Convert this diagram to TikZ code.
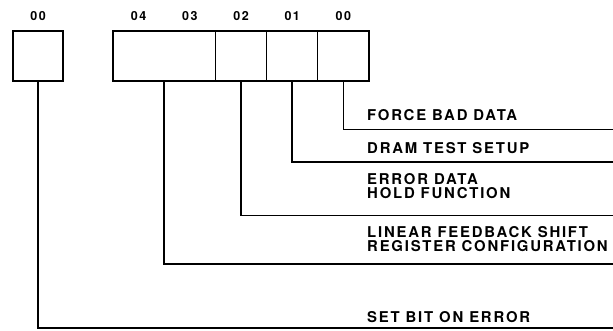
\documentclass[tikz,border=0pt]{standalone}
\usepackage{fontspec}
\setmainfont{TeX Gyre Heros}
\newfontfamily\lblfont[LetterSpace=12]{TeX Gyre Heros}
\newfontfamily\bitfont[LetterSpace=12]{TeX Gyre Heros}
\begin{document}
\begin{tikzpicture}[x=1pt,y=-1pt,
  cell/.style={draw,line width=1.3pt,minimum height=50pt,inner sep=0pt,outer sep=0pt},
  frame/.style={line width=2.2pt},
  conn/.style={line width=1.6pt},
  bitlbl/.style={font=\bitfont\bfseries\fontsize{12.5}{13}\selectfont,inner sep=0pt},
  desc/.style={font=\lblfont\bfseries\fontsize{14.9}{13.7}\selectfont,inner sep=0pt,anchor=base west,align=left}]
\useasboundingbox (0,0) rectangle (613,330);
% left box
\node[cell,frame,minimum width=50pt] (lb) at (38,56) {};
% main register cells
\node[cell,minimum width=102.4pt] (c43) at (164.2,56) {};
\node[cell,minimum width=51.2pt] (c2) at (241,56) {};
\node[cell,minimum width=51.2pt] (c1) at (292.2,56) {};
\node[cell,minimum width=51.2pt] (c0) at (343.4,56) {};
\draw[frame] (c43.north west) rectangle (c0.south east);
% bit labels
\node[bitlbl] (blb) at (38,16) {00};
\node[bitlbl] (b4) at (138.6,16) {04};
\node[bitlbl] (b3) at (189.8,16) {03};
\node[bitlbl] (b2) at (241,16) {02};
\node[bitlbl] (b1) at (292.2,16) {01};
\node[bitlbl] (b0) at (343.4,16) {00};
% descriptions (base = baseline of last line)
\node[desc] (d0) at (367,120.5) {FORCE BAD DATA};
\node[desc] (d1) at (367,153) {DRAM TEST SETUP};
\node[desc] (d2) at (367,198.5) {ERROR DATA\\HOLD FUNCTION};
\node[desc] (d3) at (367,251) {LINEAR FEEDBACK SHIFT\\REGISTER CONFIGURATION};
\node[desc] (d4) at (367,322.7) {SET BIT ON ERROR};
% line ends
\coordinate (e0) at (613,129.3);
\coordinate (e1) at (613,161.7);
\coordinate (e2) at (613,215.5);
\coordinate (e3) at (613,264);
\coordinate (e4) at (613,328);
% connectors
\draw[conn] (c0.south) |- (e0);
\draw[conn] (c1.south) |- (e1);
\draw[conn] (c2.south) |- (e2);
\draw[conn] (c43.south) |- (e3);
\draw[conn] (lb.south) |- (e4);
\end{tikzpicture}
\end{document}
